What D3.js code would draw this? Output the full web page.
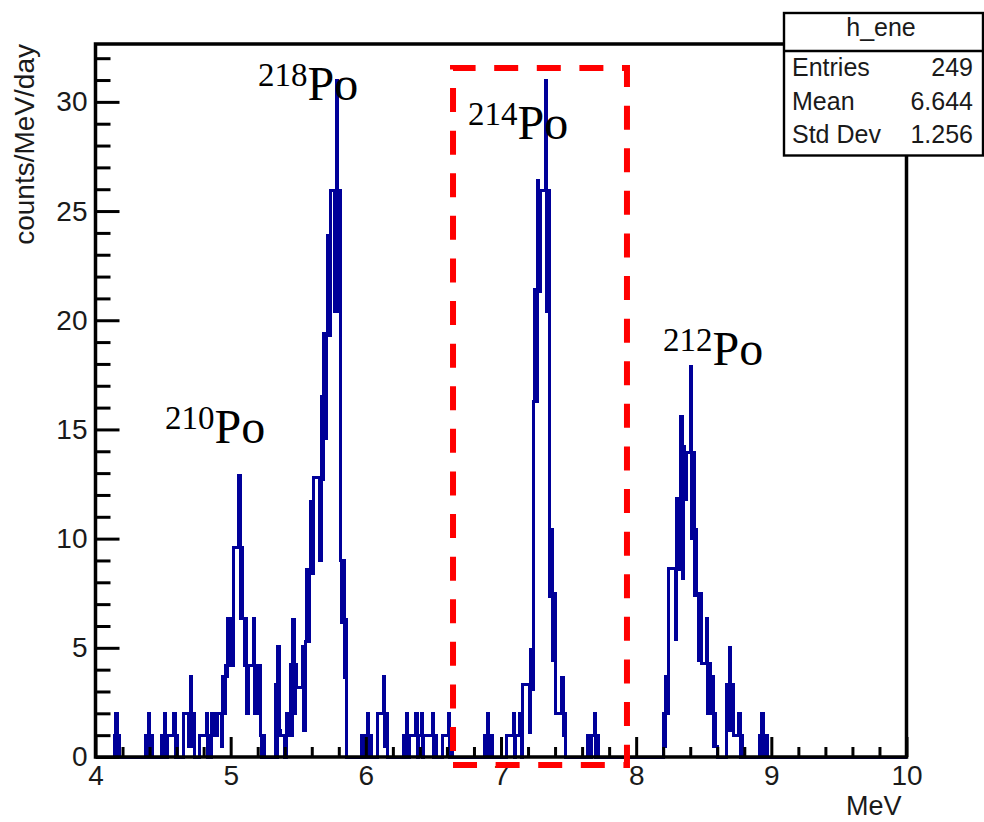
<!DOCTYPE html>
<html>
<head>
<meta charset="utf-8">
<script src="https://cdn.jsdelivr.net/npm/d3@7"></script>
<style>
  html, body { margin: 0; padding: 0; background: #fff; }
  svg { display: block; }
  .sans { font-family: "Liberation Sans", Arial, Helvetica, sans-serif; }
  .serif { font-family: "Liberation Serif", "Times New Roman", serif; }
</style>
</head>
<body>
<svg id="chart" width="984" height="822"></svg>
<script>
// h_ene : 600 bins of 0.01 MeV between 4 and 10 MeV, contents in counts/MeV/day
var binLow = 4
var binHigh = 10
var binWidth = 0.01

// only the non-empty stretches of the histogram: energy of the first bin, then the bin contents
var runStart = [4.14, 4.37, 4.49, 4.65, 4.77, 5.33, 5.41, 5.97, 6.09, 6.28, 6.57, 6.88, 7.04, 7.64, 8.20, 8.67, 8.91]
var runValues = [
  [1, 2, 0, 1],
  [1, 0, 2, 0, 1],
  [1, 0, 2, 0, 1, 1, 1, 1, 1, 2, 0, 1],
  [2, 2, 2, 2, 0.5, 3.7, 0.5, 2],
  [1, 1, 1, 1, 1, 2, 0, 1, 0, 2, 1, 2, 1, 2, 2, 2, 0.5, 3.7, 2, 4.2, 3.7, 6.35, 4.2, 6.35, 4.2,
   9.6, 9.6, 9.6, 9.6, 12.87, 6.35, 9.6, 6.35, 4.2, 6.35, 2, 4.2, 4.2, 4.2, 4.2, 6.35, 2, 4.2, 2, 4.2, 1, 0, 1],
  [3.3, 0, 5.05, 1.2, 1, 1, 1],
  [2, 2, 1, 4.24, 1, 6.3, 2, 4.24, 3.2, 3.2, 3.2, 3.2, 5.05, 1.2, 5.3, 8.6, 5.3, 8.6, 11.7, 8.4,
   12.8, 12.8, 12.8, 12.8, 12.8, 9.0, 16.5, 12.7, 19.4, 14.6, 19.3, 23.9, 19.3, 25.96, 25.96, 25.96,
   20.4, 31.0, 20.4, 25.96, 9.0, 6.15, 9.0, 3.64, 6.3],
  [1, 0, 1, 0, 2, 0, 1],
  [2, 2, 2, 2, 3.7, 0.5, 2],
  [1, 0, 2, 0, 1, 1, 1, 1, 1, 2, 0, 1, 1, 2, 0, 1, 1, 1, 1, 1, 1, 2, 0, 1],
  [1, 1, 1, 1, 2, 0, 1],
  [1, 0, 2, 1, 0, 1],
  [1, 1, 1, 1, 1, 2, 0, 1, 1, 1, 2, 0, 3.3, 3.3, 3.3, 3.3, 3.3, 1.1, 4.9, 3.1, 16.3, 21.4, 16.3, 26.4, 21.3,
   25.96, 25.96, 25.96, 25.96, 31.0, 20.4, 25.96, 7.35, 10.4, 4.4, 7.5, 2, 2, 2, 2, 2, 3.64, 1, 2],
  [1, 1, 0, 1, 1, 2, 0, 1],
  [2, 0.5, 3.7, 2, 8.64, 8.64, 8.64, 8.64, 8.64, 5.36, 11.84, 8.6, 11.84, 15.6, 8.18, 14.2, 11.8,
   13.95, 13.95, 13.95, 17.9, 10.0, 13.95, 7.4, 10.4, 7.5, 4.44, 7.5, 4.27, 4.27, 4.27, 4.27, 6.35,
   2, 4.27, 2, 3.7, 0.5, 2, 0.5],
  [3.3, 1.2, 5.0, 1.2, 3.3, 1, 1, 1, 1, 2, 0, 1],
  [1, 0, 2, 1, 0, 1]
]

var xMajor = [4, 5, 6, 7, 8, 9, 10]
var yMajor = [0, 5, 10, 15, 20, 25, 30]
var yMax = 32.65

// stats box
var statNames = ['Entries', 'Mean', 'Std Dev']
var statValues = ['249', '6.644', '1.256']

// peak labels (mass number, left edge in MeV, baseline in counts/MeV/day)
var labelMass = ['210', '218', '214', '212']
var labelE = [4.514, 5.202, 6.756, 8.199]
var labelV = [14.38, 30.08, 28.3, 17.95]

// selection window drawn as red dashed box
var windowE = [6.645, 7.932]
var windowV = [-0.37, 31.55]

var svg = d3.select('#chart')

var x = d3.scaleLinear().domain([binLow, binHigh]).range([95.5, 906.5])
var y = d3.scaleLinear().domain([0, yMax]).range([757, 44])

// fill the bins
var nBins = Math.round((binHigh - binLow) / binWidth)
var contents = new Array(nBins).fill(0)
for (var r = 0; r < runStart.length; r++) {
  var i0 = Math.round((runStart[r] - binLow) / binWidth)
  runValues[r].forEach(function (v, k) { contents[i0 + k] = v })
}
var steps = contents.map(function (v, i) { return [binLow + i * binWidth, v] })
steps.push([binHigh, 0])

var histLine = d3.line()
  .x(function (d) { return x(d[0]) })
  .y(function (d) { return y(d[1]) })
  .curve(d3.curveStepAfter)

svg.append('path')
  .datum(steps)
  .attr('d', histLine)
  .attr('fill', 'none')
  .attr('stroke', '#000099')
  .attr('stroke-width', 3)
  .attr('shape-rendering', 'crispEdges')

// axes, ticks pointing into the frame like ROOT does
var xMinor = d3.range(0, 31).map(function (k) { return binLow + k * 0.2 }).filter(function (v) { return Math.abs(v - Math.round(v)) > 1e-6 })
var yMinor = d3.range(0, 33).filter(function (v) { return v % 5 != 0 })

var gx = svg.append('g').attr('transform', 'translate(0,' + y(0) + ')')
gx.call(d3.axisBottom(x).tickValues(xMajor).tickSize(-20).tickPadding(8).tickFormat(d3.format('d')))
gx.append('g').call(d3.axisBottom(x).tickValues(xMinor).tickSize(-10).tickFormat(''))

var gy = svg.append('g').attr('transform', 'translate(' + x(binLow) + ',0)')
gy.call(d3.axisLeft(y).tickValues(yMajor).tickSize(-24).tickPadding(8).tickFormat(d3.format('d')))
gy.append('g').call(d3.axisLeft(y).tickValues(yMinor).tickSize(-15).tickFormat(''))

svg.selectAll('.domain').remove()
svg.selectAll('.tick line').attr('stroke', '#000').attr('stroke-width', 3)
svg.selectAll('.tick text')
  .attr('class', 'sans')
  .style('font-size', '28px')
  .attr('fill', '#1a1a1a')

// frame
svg.append('rect')
  .attr('x', x(binLow))
  .attr('y', y(yMax))
  .attr('width', x(binHigh) - x(binLow))
  .attr('height', y(0) - y(yMax))
  .attr('fill', 'none')
  .attr('stroke', '#000')
  .attr('stroke-width', 3.5)

// axis titles
svg.append('text')
  .attr('class', 'sans')
  .attr('transform', 'translate(34,' + y(yMax) + ') rotate(-90)')
  .attr('text-anchor', 'end')
  .style('font-size', '28px')
  .attr('fill', '#1a1a1a')
  .text('counts/MeV/day')

svg.append('text')
  .attr('class', 'sans')
  .attr('x', x(binHigh) - 5)
  .attr('y', 815)
  .attr('text-anchor', 'end')
  .style('font-size', '27px')
  .attr('fill', '#1a1a1a')
  .text('MeV')

// peak labels
for (var p = 0; p < labelMass.length; p++) {
  var lab = svg.append('text')
    .attr('class', 'serif')
    .attr('x', x(labelE[p]))
    .attr('y', y(labelV[p]))
    .attr('fill', '#000')
  lab.append('tspan').style('font-size', '33px').attr('dy', -14).text(labelMass[p])
  lab.append('tspan').style('font-size', '48px').attr('dy', 14).text('Po')
}

// red dashed window, drawn from the lower left corner going anticlockwise
var win = d3.path()
win.moveTo(x(windowE[0]), y(windowV[0]))
win.lineTo(x(windowE[1]), y(windowV[0]))
win.lineTo(x(windowE[1]), y(windowV[1]))
win.lineTo(x(windowE[0]), y(windowV[1]))
win.lineTo(x(windowE[0]), y(windowV[0]))

svg.append('path')
  .attr('d', win.toString())
  .attr('fill', 'none')
  .attr('stroke', '#ff0000')
  .attr('stroke-width', 6)
  .attr('stroke-dasharray', '24,18.6')

// stats box
var box = svg.append('g').attr('class', 'sans')
box.append('rect')
  .attr('x', 784).attr('y', 13)
  .attr('width', 199).attr('height', 142.5)
  .attr('fill', '#fff')
  .attr('stroke', '#000')
  .attr('stroke-width', 2.4)
box.append('line')
  .attr('x1', 784).attr('x2', 983)
  .attr('y1', 51).attr('y2', 51)
  .attr('stroke', '#000')
  .attr('stroke-width', 2.4)
box.append('text')
  .attr('x', 881).attr('y', 36)
  .attr('text-anchor', 'middle')
  .style('font-size', '25px')
  .attr('fill', '#1a1a1a')
  .text('h_ene')

statNames.forEach(function (name, k) {
  box.append('text')
    .attr('x', 792).attr('y', 76 + k * 33.5)
    .style('font-size', '25px')
    .attr('fill', '#1a1a1a')
    .text(name)
  box.append('text')
    .attr('x', 973).attr('y', 76 + k * 33.5)
    .attr('text-anchor', 'end')
    .style('font-size', '25px')
    .attr('fill', '#1a1a1a')
    .text(statValues[k])
})
</script>
</body>
</html>
